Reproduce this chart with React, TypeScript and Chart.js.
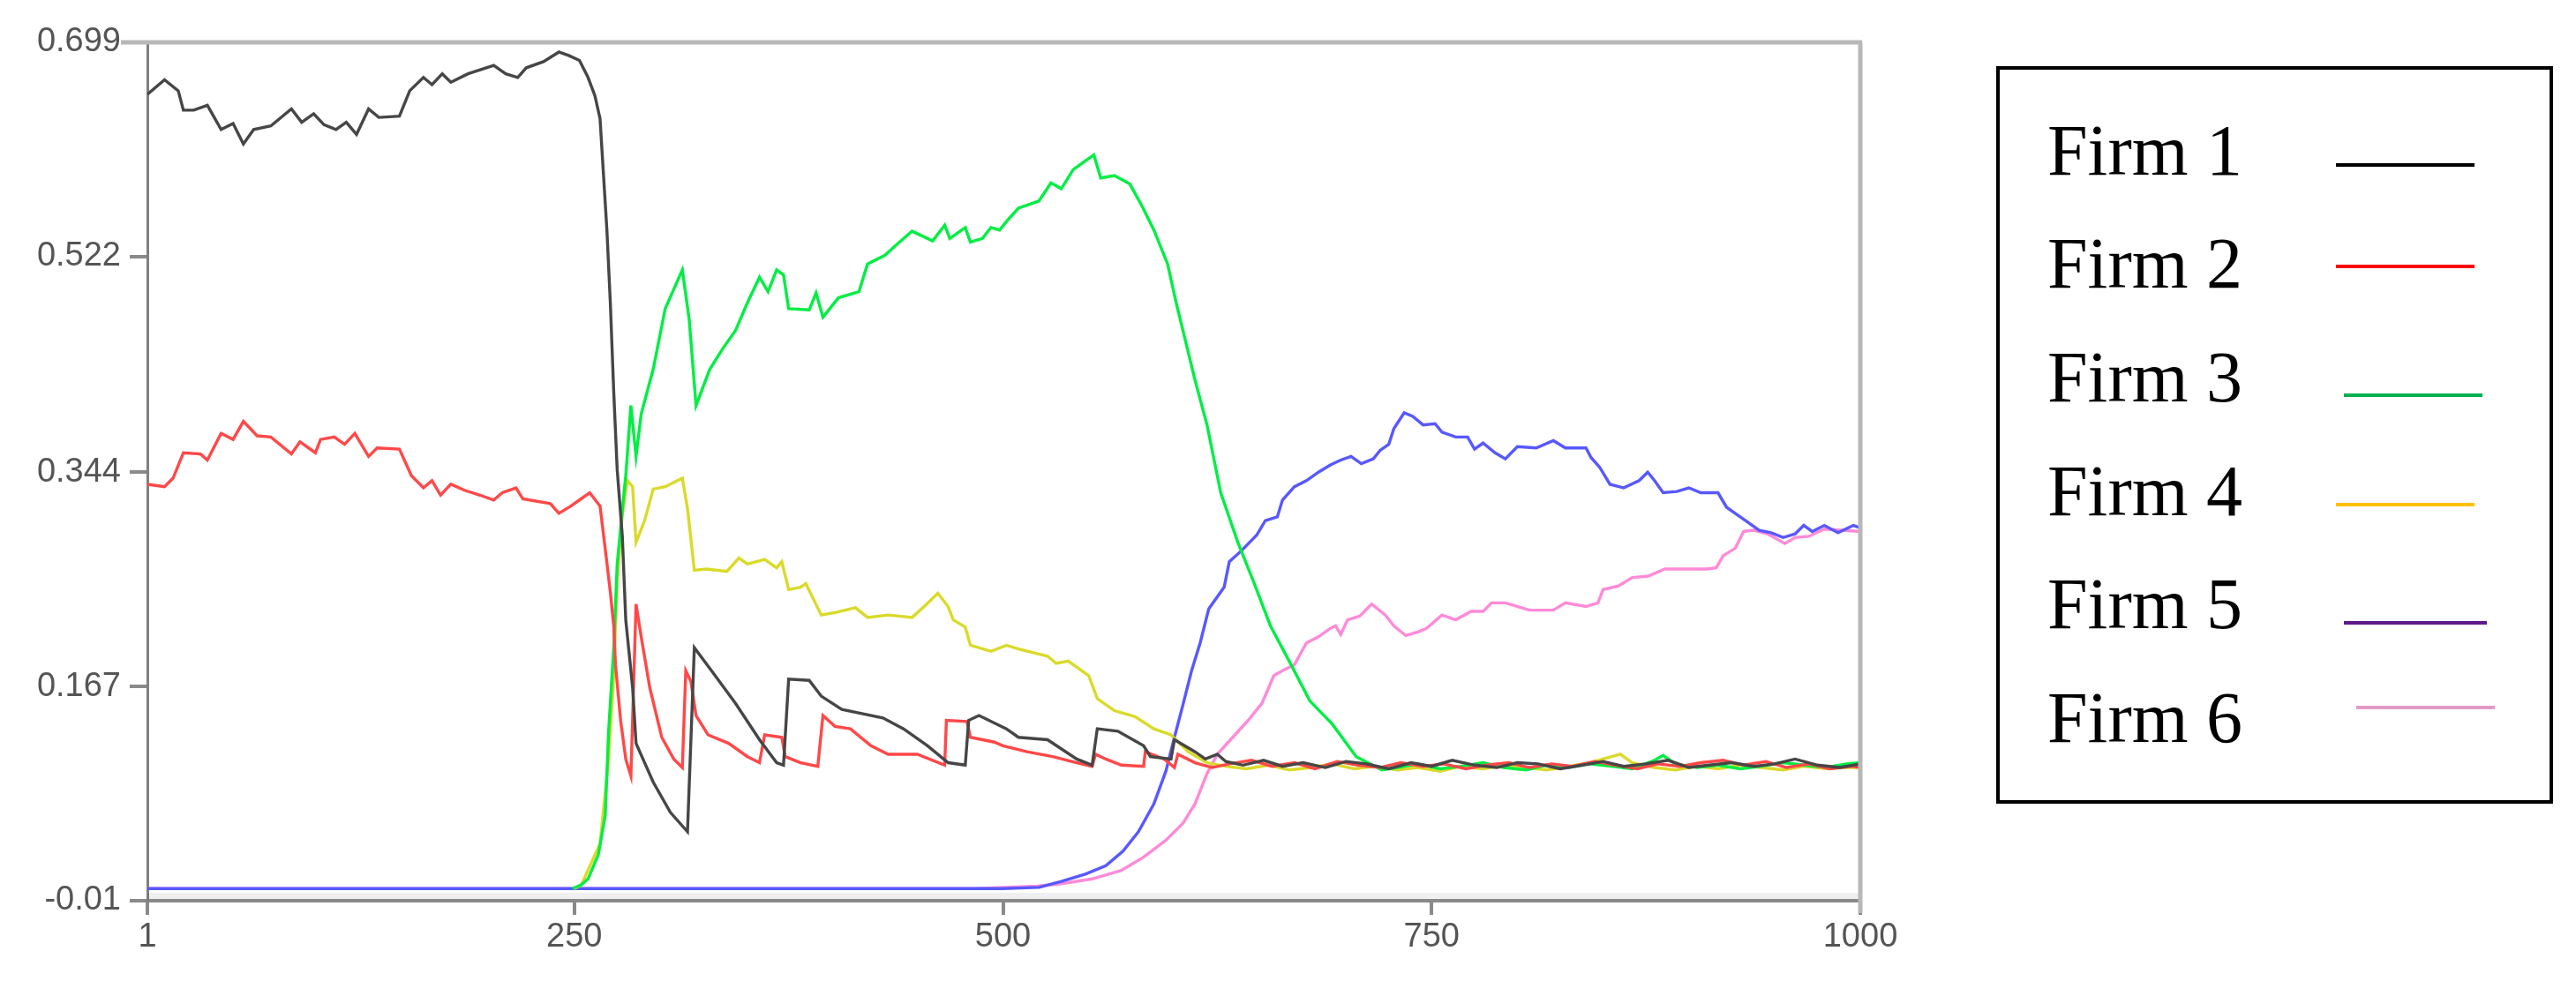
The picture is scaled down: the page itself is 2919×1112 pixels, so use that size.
import React, { useEffect, useRef } from "react";
import { Chart, registerables } from "chart.js";

Chart.register(...registerables);

const xTicks = [1, 250, 500, 750, 1000];
const yTicks = [-0.01, 0.167, 0.344, 0.522, 0.699];
const yTickLabels = ["-0.01", "0.167", "0.344", "0.522", "0.699"];

const firmNames = ["Firm 1", "Firm 2", "Firm 3", "Firm 4", "Firm 5", "Firm 6"];
const lineColors = ["#464646", "#ff4848", "#00ee44", "#dada2a", "#5858ff", "#ff8ad8"];
const legendColors = ["#000000", "#ff0000", "#00b050", "#ffc000", "#5c1a8a", "#e39ac6"];

const firm1: [number, number][] = [
  [1, 0.656], [11, 0.668], [19, 0.659], [22, 0.643], [28, 0.643], [36, 0.647], [44, 0.627], [51, 0.632],
  [57, 0.615], [63, 0.627], [73, 0.63], [85, 0.644], [91, 0.633], [98, 0.64], [104, 0.631], [111, 0.627],
  [117, 0.633], [123, 0.623], [130, 0.644], [136, 0.637], [148, 0.638], [154, 0.659], [162, 0.67], [167, 0.664],
  [173, 0.673], [178, 0.666], [188, 0.673], [203, 0.68], [210, 0.673], [217, 0.67], [222, 0.678], [232, 0.683],
  [241, 0.691], [247, 0.688], [253, 0.684], [258, 0.67], [262, 0.655], [265, 0.636], [267, 0.59], [269, 0.544],
  [271, 0.484], [273, 0.41], [275, 0.346], [278, 0.291], [280, 0.222], [284, 0.166], [286, 0.12], [296, 0.088],
  [306, 0.063], [316, 0.047], [320, 0.199], [330, 0.18], [344, 0.153], [358, 0.123], [368, 0.104], [372, 0.102],
  [375, 0.173], [387, 0.172], [394, 0.159], [406, 0.148], [430, 0.141], [442, 0.132], [456, 0.118], [468, 0.104],
  [478, 0.102], [480, 0.139], [486, 0.143], [502, 0.132], [509, 0.125], [526, 0.123], [543, 0.107], [552, 0.102],
  [555, 0.132], [567, 0.13], [582, 0.118], [586, 0.109], [598, 0.107], [600, 0.123], [612, 0.113], [618, 0.107],
  [625, 0.111], [630, 0.105], [640, 0.102], [652, 0.106], [663, 0.101], [675, 0.104], [688, 0.1], [700, 0.105],
  [712, 0.103], [725, 0.099], [738, 0.104], [750, 0.101], [762, 0.106], [775, 0.102], [788, 0.1], [800, 0.104],
  [812, 0.103], [825, 0.099], [838, 0.102], [850, 0.105], [862, 0.101], [875, 0.103], [888, 0.106], [900, 0.1],
  [912, 0.102], [925, 0.104], [938, 0.101], [950, 0.103], [962, 0.107], [975, 0.102], [988, 0.1], [1000, 0.103],
];

const firm2: [number, number][] = [
  [1, 0.334], [11, 0.332], [16, 0.339], [22, 0.36], [32, 0.359], [36, 0.354], [44, 0.376], [51, 0.371],
  [57, 0.386], [65, 0.374], [73, 0.373], [85, 0.359], [90, 0.369], [99, 0.36], [102, 0.371], [110, 0.373],
  [116, 0.367], [122, 0.376], [130, 0.357], [135, 0.364], [148, 0.363], [155, 0.341], [162, 0.331], [167, 0.337],
  [172, 0.325], [178, 0.334], [186, 0.329], [195, 0.325], [203, 0.321], [208, 0.327], [216, 0.331], [220, 0.322],
  [236, 0.318], [241, 0.31], [248, 0.316], [253, 0.321], [259, 0.327], [265, 0.316], [268, 0.281], [271, 0.245],
  [273, 0.217], [274, 0.185], [277, 0.139], [280, 0.107], [283, 0.093], [286, 0.235], [289, 0.208], [294, 0.166],
  [301, 0.125], [308, 0.107], [313, 0.1], [315, 0.18], [318, 0.171], [321, 0.143], [328, 0.127], [340, 0.12],
  [351, 0.109], [358, 0.104], [361, 0.127], [371, 0.125], [373, 0.109], [382, 0.104], [392, 0.101], [395, 0.143],
  [402, 0.134], [411, 0.132], [423, 0.118], [433, 0.111], [450, 0.111], [466, 0.102], [467, 0.139], [479, 0.138],
  [481, 0.125], [495, 0.121], [500, 0.118], [514, 0.113], [529, 0.109], [543, 0.104], [552, 0.101], [554, 0.111],
  [560, 0.107], [569, 0.102], [582, 0.101], [583, 0.113], [594, 0.107], [600, 0.1], [602, 0.111], [612, 0.104],
  [622, 0.1], [632, 0.103], [645, 0.106], [657, 0.101], [670, 0.104], [682, 0.099], [695, 0.105], [707, 0.102],
  [720, 0.1], [732, 0.104], [745, 0.101], [757, 0.103], [770, 0.099], [782, 0.102], [795, 0.104], [807, 0.1],
  [820, 0.103], [832, 0.101], [845, 0.105], [857, 0.102], [870, 0.099], [882, 0.103], [895, 0.101], [907, 0.104],
  [920, 0.106], [932, 0.102], [945, 0.105], [957, 0.1], [970, 0.103], [982, 0.099], [995, 0.101], [1000, 0.1],
];

const firm3: [number, number][] = [
  [249, 0], [254, 0.003], [258, 0.008], [264, 0.028], [268, 0.06], [270, 0.13], [273, 0.199], [275, 0.268],
  [279, 0.327], [280, 0.341], [283, 0.399], [286, 0.357], [289, 0.392], [296, 0.429], [303, 0.479], [313, 0.511],
  [317, 0.47], [321, 0.399], [329, 0.429], [337, 0.447], [344, 0.461], [351, 0.484], [358, 0.505], [363, 0.493],
  [368, 0.511], [372, 0.507], [375, 0.479], [387, 0.478], [391, 0.492], [395, 0.472], [404, 0.488], [416, 0.493],
  [421, 0.516], [431, 0.523], [438, 0.532], [447, 0.543], [459, 0.535], [466, 0.548], [469, 0.537], [478, 0.546],
  [481, 0.534], [488, 0.537], [493, 0.546], [498, 0.544], [502, 0.551], [509, 0.562], [521, 0.568], [528, 0.583],
  [534, 0.578], [541, 0.594], [553, 0.606], [557, 0.587], [565, 0.589], [574, 0.582], [581, 0.564], [588, 0.544],
  [596, 0.516], [601, 0.484], [612, 0.42], [619, 0.383], [627, 0.327], [637, 0.286], [646, 0.254], [656, 0.217],
  [668, 0.185], [679, 0.155], [692, 0.136], [706, 0.109], [721, 0.098], [730, 0.1], [742, 0.103], [755, 0.099],
  [767, 0.101], [780, 0.104], [792, 0.1], [805, 0.098], [817, 0.102], [830, 0.1], [842, 0.103], [855, 0.101],
  [867, 0.099], [880, 0.106], [885, 0.11], [892, 0.103], [905, 0.1], [917, 0.102], [930, 0.099], [942, 0.101],
  [955, 0.104], [967, 0.102], [980, 0.1], [992, 0.103], [1000, 0.104],
];

const firm4: [number, number][] = [
  [250, 0], [254, 0.003], [265, 0.037], [270, 0.107], [273, 0.176], [275, 0.254], [278, 0.309], [281, 0.337],
  [284, 0.332], [286, 0.286], [291, 0.304], [296, 0.33], [303, 0.332], [313, 0.339], [316, 0.314], [320, 0.263],
  [327, 0.264], [339, 0.262], [346, 0.273], [351, 0.268], [361, 0.272], [368, 0.265], [371, 0.27], [375, 0.247],
  [382, 0.249], [385, 0.252], [394, 0.226], [402, 0.228], [414, 0.232], [421, 0.224], [433, 0.226], [447, 0.224],
  [454, 0.233], [462, 0.244], [468, 0.233], [471, 0.222], [478, 0.216], [481, 0.201], [493, 0.196], [502, 0.201],
  [509, 0.198], [526, 0.192], [531, 0.186], [538, 0.188], [550, 0.176], [555, 0.157], [565, 0.147], [577, 0.142],
  [588, 0.132], [598, 0.127], [608, 0.113], [619, 0.104], [630, 0.101], [642, 0.099], [655, 0.102], [667, 0.098],
  [680, 0.1], [692, 0.103], [705, 0.099], [717, 0.101], [730, 0.098], [742, 0.1], [755, 0.097], [767, 0.101],
  [780, 0.099], [792, 0.102], [805, 0.1], [817, 0.098], [830, 0.101], [842, 0.104], [855, 0.109], [860, 0.111],
  [867, 0.104], [880, 0.1], [892, 0.098], [905, 0.101], [917, 0.099], [930, 0.102], [942, 0.1], [955, 0.098],
  [967, 0.101], [980, 0.099], [992, 0.1], [1000, 0.1],
];

const firm5: [number, number][] = [
  [1, 0], [484, 0], [500, 0], [521, 0.001], [534, 0.006], [548, 0.012], [560, 0.019], [570, 0.031],
  [579, 0.047], [588, 0.07], [595, 0.097], [600, 0.125], [605, 0.152], [610, 0.18], [615, 0.203], [620, 0.231],
  [629, 0.249], [632, 0.27], [639, 0.279], [648, 0.292], [653, 0.304], [660, 0.307], [663, 0.321], [670, 0.332],
  [677, 0.337], [684, 0.344], [691, 0.35], [697, 0.354], [703, 0.357], [709, 0.351], [716, 0.355], [720, 0.362],
  [725, 0.367], [728, 0.38], [734, 0.393], [739, 0.39], [745, 0.383], [752, 0.384], [756, 0.377], [764, 0.373],
  [771, 0.373], [775, 0.363], [780, 0.368], [787, 0.36], [793, 0.355], [800, 0.365], [811, 0.364], [821, 0.37],
  [828, 0.364], [840, 0.364], [843, 0.356], [848, 0.348], [854, 0.334], [862, 0.331], [871, 0.337], [876, 0.344],
  [880, 0.337], [885, 0.327], [893, 0.328], [900, 0.331], [907, 0.327], [917, 0.327], [922, 0.315], [927, 0.31],
  [934, 0.303], [941, 0.296], [948, 0.294], [955, 0.29], [962, 0.293], [967, 0.3], [972, 0.295], [979, 0.3],
  [987, 0.294], [996, 0.3], [1000, 0.298],
];

const firm6: [number, number][] = [
  [1, 0], [484, 0], [520, 0.002], [534, 0.004], [552, 0.008], [569, 0.015], [582, 0.026], [595, 0.04],
  [605, 0.054], [612, 0.07], [619, 0.095], [625, 0.111], [634, 0.125], [643, 0.139], [651, 0.153], [658, 0.176],
  [663, 0.18], [670, 0.185], [677, 0.203], [684, 0.208], [691, 0.215], [694, 0.217], [697, 0.21], [701, 0.222],
  [708, 0.225], [715, 0.235], [723, 0.226], [728, 0.217], [735, 0.209], [742, 0.212], [747, 0.215], [756, 0.226],
  [764, 0.222], [773, 0.229], [780, 0.229], [785, 0.236], [793, 0.236], [807, 0.23], [821, 0.23], [828, 0.236],
  [840, 0.233], [847, 0.236], [850, 0.247], [859, 0.25], [867, 0.257], [876, 0.258], [886, 0.264], [900, 0.264],
  [910, 0.264], [916, 0.265], [920, 0.275], [927, 0.281], [932, 0.295], [938, 0.296], [946, 0.293], [956, 0.285],
  [962, 0.29], [970, 0.291], [979, 0.297], [989, 0.296], [1000, 0.295],
];

const allSeries = [firm1, firm2, firm3, firm4, firm5, firm6];

const legendBaselines = [199, 327, 456, 585, 713, 842];
const legendLineX = [2647, 2647, 2656, 2647, 2656, 2670];
const legendLineW = [157, 157, 157, 157, 162, 157];
const legendLineY = [187, 302, 448, 572, 706, 802];

const tickFont = { family: "'Liberation Sans', Arial, sans-serif", size: 38 };

export default function App() {
  const ref = useRef<HTMLCanvasElement>(null);

  useEffect(() => {
    if (!ref.current) return;
    const frame = {
      id: "frame",
      beforeDatasetsDraw(chart: any) {
        const { ctx, chartArea } = chart;
        ctx.save();
        ctx.fillStyle = "rgba(0,0,0,0.06)";
        ctx.fillRect(chartArea.left, chartArea.bottom - 9, chartArea.right - chartArea.left, 7);
        ctx.restore();
      },
      afterDraw(chart: any) {
        const { ctx, chartArea } = chart;
        ctx.save();
        ctx.strokeStyle = "#b8b8b8";
        ctx.lineWidth = 5;
        ctx.beginPath();
        ctx.moveTo(chartArea.left - 30, chartArea.top);
        ctx.lineTo(chartArea.right + 2, chartArea.top);
        ctx.moveTo(chartArea.right, chartArea.top);
        ctx.lineTo(chartArea.right, chartArea.bottom + 14);
        ctx.stroke();
        ctx.restore();
      },
    };

    const chart = new Chart(ref.current, {
      type: "line",
      data: {
        datasets: allSeries.map((s, i) => ({
          label: firmNames[i],
          data: s.map(([x, y]) => ({ x, y })),
          borderColor: lineColors[i],
          backgroundColor: lineColors[i],
          borderWidth: 3.4,
          pointRadius: 0,
          tension: 0,
          fill: false,
        })),
      },
      options: {
        animation: false,
        responsive: false,
        events: [],
        layout: { padding: { left: 0, top: 48, right: 811, bottom: 0 } },
        plugins: { legend: { display: false }, tooltip: { enabled: false } },
        scales: {
          x: {
            type: "linear",
            min: 1,
            max: 1000,
            afterBuildTicks: (s: any) => {
              s.ticks = xTicks.map((v) => ({ value: v }));
            },
            afterFit: (s: any) => {
              s.height = 91;
            },
            grid: { drawOnChartArea: false, drawTicks: true, tickLength: 16, color: "#8a8a8a", lineWidth: 4 },
            border: { display: true, color: "#8a8a8a", width: 4 },
            ticks: {
              color: "#555555",
              font: tickFont,
              padding: 3,
              maxRotation: 0,
              autoSkip: false,
              callback: (v: any) => String(v),
            },
          },
          y: {
            min: -0.01,
            max: 0.699,
            afterBuildTicks: (s: any) => {
              s.ticks = yTicks.map((v) => ({ value: v }));
            },
            afterFit: (s: any) => {
              s.width = 167;
            },
            grid: { drawOnChartArea: false, drawTicks: true, tickLength: 20, color: "#8a8a8a", lineWidth: 4 },
            border: { display: true, color: "#808080", width: 3 },
            ticks: {
              color: "#555555",
              font: tickFont,
              padding: 10,
              autoSkip: false,
              callback: (_v: any, i: number) => yTickLabels[i],
            },
          },
        },
      },
      plugins: [frame],
    } as any);
    return () => chart.destroy();
  }, []);

  return (
    <div style={{ position: "fixed", left: 0, top: 0, width: 2919, height: 1112, background: "#ffffff" }}>
      <canvas
        ref={ref}
        width={2919}
        height={1112}
        style={{ position: "absolute", left: 0, top: 0, width: 2919, height: 1112 }}
      />
      <div
        style={{
          position: "absolute",
          left: 2262,
          top: 75,
          width: 631,
          height: 836,
          border: "4px solid #000",
          boxSizing: "border-box",
        }}
      />
      {firmNames.map((n, i) => (
        <div
          key={n}
          style={{
            position: "absolute",
            left: 2320,
            top: legendBaselines[i] - 69,
            font: "82px 'Liberation Serif', 'Times New Roman', serif",
            lineHeight: "82px",
            color: "#000",
            whiteSpace: "pre",
          }}
        >
          {n}
        </div>
      ))}
      {firmNames.map((n, i) => (
        <div
          key={n + "-line"}
          style={{
            position: "absolute",
            left: legendLineX[i],
            top: legendLineY[i] - 2,
            width: legendLineW[i],
            height: 4,
            background: legendColors[i],
          }}
        />
      ))}
    </div>
  );
}
